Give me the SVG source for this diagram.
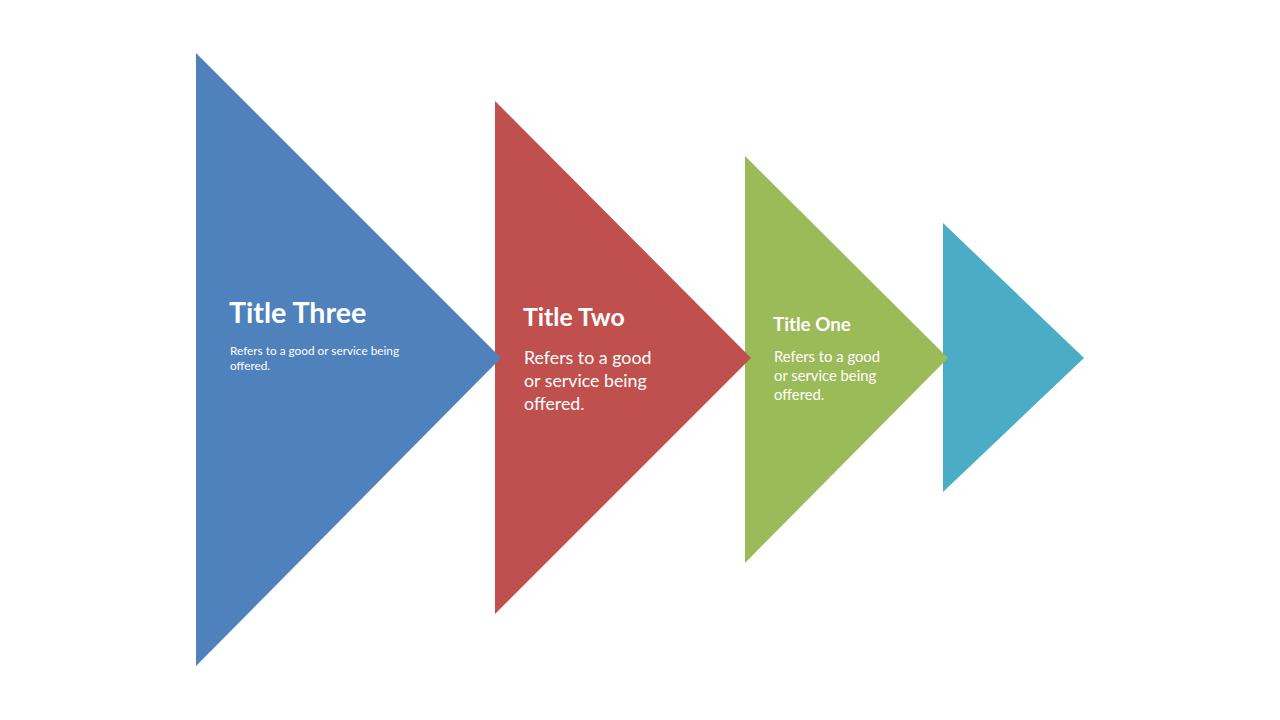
<svg xmlns="http://www.w3.org/2000/svg" width="1280" height="720" viewBox="0 0 1280 720">
<style>
.t{font-family:Lato,"Liberation Sans",sans-serif;fill:#fff;font-weight:bold}
.b{font-family:Lato,"Liberation Sans",sans-serif;fill:#fff}
</style>
<rect width="1280" height="720" fill="#fff"/>
<g id="node-four"><polygon points="943,223 1084,358 943,492" fill="#4BACC6"/></g>
<g id="node-one"><polygon points="745,156 948,358 745,563" fill="#9BBB59"/>
<text class="t" x="773" y="331" font-size="18.8">Title One</text>
<text class="b" font-size="14.8"><tspan x="774" y="362">Refers to a good</tspan><tspan x="774" y="381">or service being</tspan><tspan x="774" y="400">offered.</tspan></text></g>
<g id="node-two"><polygon points="495,101 751,358 495,614" fill="#C0504D"/>
<text class="t" x="523" y="326" font-size="24.8">Title Two</text>
<text class="b" font-size="17.8"><tspan x="524" y="364">Refers to a good</tspan><tspan x="524" y="387">or service being</tspan><tspan x="524" y="410">offered.</tspan></text></g>
<g id="node-three"><polygon points="196,53 501,358 196,666" fill="#4F81BD"/>
<text class="t" x="229" y="323" font-size="28.6">Title Three</text>
<text class="b" font-size="11.8"><tspan x="230" y="355">Refers to a good or service being</tspan><tspan x="230" y="370">offered.</tspan></text></g>
<g id="connectors"/>
</svg>
